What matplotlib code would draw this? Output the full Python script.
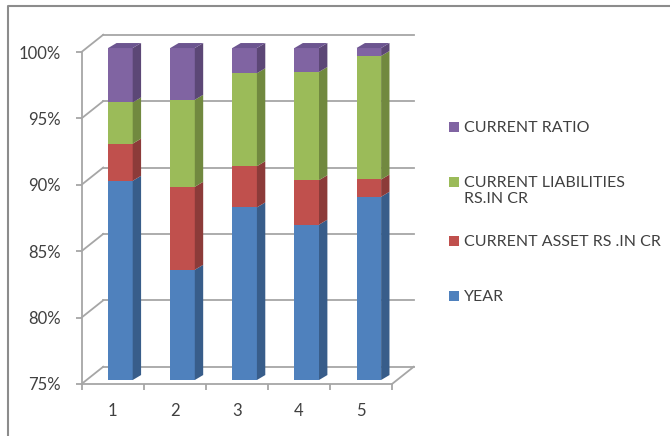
import matplotlib
matplotlib.use("Agg")
import matplotlib.pyplot as plt
from matplotlib.patches import Polygon, Rectangle
from matplotlib.lines import Line2D
import numpy as np

plt.rcParams['font.family'] = ['Lato', 'DejaVu Sans']

# data (share of each column, in %)
years = ['1', '2', '3', '4', '5']
year_pct = [90.0, 83.3, 88.0, 86.7, 88.8]
asset_pct = [2.8, 6.25, 3.1, 3.35, 1.3]
liab_pct = [3.1, 6.55, 7.0, 8.15, 9.3]
ratio_pct = [4.1, 3.9, 1.9, 1.8, 0.6]

series = [year_pct, asset_pct, liab_pct, ratio_pct]
names = ['YEAR', 'CURRENT ASSET RS .IN CR', 'CURRENT LIABILITIES\nRS.IN CR', 'CURRENT RATIO']
front = ['#4F81BD', '#C0504D', '#9BBB59', '#8064A2']
side = ['#385D8A', '#8C3B39', '#71893F', '#5C4776']
top_col = '#6C5590'
grid_col = '#A6A6A6'
text_col = '#404040'

W, H = 670, 436
fig = plt.figure(figsize=(6.7, 4.36), dpi=100)
ax = fig.add_axes([81.5 / W, 1 - 384 / H, (392 - 81.5) / W, (384 - 52) / H])

x = np.arange(1, 6)
ax.set_xlim(0.5, 5.5)
ax.set_ylim(75, 100)

# 3d offsets in data units
wall_dx, wall_dy = 0.35, 1.3      # depth of the box
bar_sx, bar_sy = 0.127, 0.3       # front face of the bars
bar_dx, bar_dy = 0.135, 0.375     # depth of the bars
bw = 0.395

# back wall gridlines and left wall diagonals
for v in np.arange(75, 101, 5):
    ax.add_line(Line2D([0.5, 0.5 + wall_dx], [v, v + wall_dy], color=grid_col, lw=1.3, clip_on=False, zorder=1))
    ax.add_line(Line2D([0.5 + wall_dx, 5.5 + wall_dx], [v + wall_dy, v + wall_dy], color=grid_col, lw=1.3, clip_on=False, zorder=1))
# floor right edge
ax.add_line(Line2D([5.5, 5.5 + wall_dx], [75, 75 + wall_dy], color=grid_col, lw=1.3, clip_on=False, zorder=1))

# stacked 3d columns
cum = np.zeros(5)
for k, vals in enumerate(series):
    vals = np.array(vals)
    lo = np.maximum(cum, 75)
    hi = cum + vals
    ax.bar(x + bar_sx, hi - lo, bw, bottom=lo + bar_sy, color=front[k], clip_on=False, zorder=3)
    for i in range(5):
        if hi[i] <= 75:
            continue
        xr = x[i] + bar_sx + bw / 2
        ax.add_patch(Polygon([[xr, lo[i] + bar_sy], [xr + bar_dx, lo[i] + bar_sy + bar_dy],
                              [xr + bar_dx, hi[i] + bar_sy + bar_dy], [xr, hi[i] + bar_sy]],
                             closed=True, facecolor=side[k], edgecolor='none', clip_on=False, zorder=3))
        if k == len(series) - 1:
            xl = x[i] + bar_sx - bw / 2
            yt = hi[i] + bar_sy
            ax.add_patch(Polygon([[xl, yt], [xl + bar_dx, yt + bar_dy], [xr + bar_dx, yt + bar_dy], [xr, yt]],
                                 closed=True, facecolor=top_col, edgecolor='none', clip_on=False, zorder=3))
    cum = hi

# axes
for s in ['top', 'right']:
    ax.spines[s].set_visible(False)
for s in ['left', 'bottom']:
    ax.spines[s].set_color(grid_col)
    ax.spines[s].set_linewidth(1.3)
    ax.spines[s].set_zorder(4)
ax.set_yticks(np.arange(75, 101, 5))
ax.set_yticklabels(['%d%%' % v for v in np.arange(75, 101, 5)])
ax.tick_params(axis='y', direction='out', length=4, width=1.3, color=grid_col,
               labelsize=12, labelcolor=text_col, pad=11)
ax.set_xticks(np.arange(0.5, 5.6, 1.0))
ax.set_xticklabels([])
ax.set_xticks(x, minor=True)
ax.set_xticklabels(years, minor=True)
ax.tick_params(axis='x', which='major', direction='out', length=4, width=1.3, color=grid_col)
ax.tick_params(axis='x', which='minor', length=0, labelsize=12, labelcolor=text_col, pad=14)
ax.patch.set_visible(False)

# legend drawn at the right
leg_y = [296, 241, 182.5, 127.5]
for k in range(3, -1, -1):
    yc = leg_y[k]
    fig.add_artist(Rectangle((449 / W, 1 - (yc + 5) / H), 10 / W, 10 / H,
                             facecolor=front[k], edgecolor='none', transform=fig.transFigure))
    fig.text(464 / W, 1 - (yc - 6.5) / H, names[k], fontsize=11.5, color=text_col,
             va='top', ha='left', linespacing=1.2)

# outer frame
fig.add_artist(Line2D([7.5 / W, 7.5 / W, 1], [0, 1 - 6 / H, 1 - 6 / H], color='#8C8C8C',
                      lw=1.5, transform=fig.transFigure))

fig.savefig('out.png', dpi=100)
